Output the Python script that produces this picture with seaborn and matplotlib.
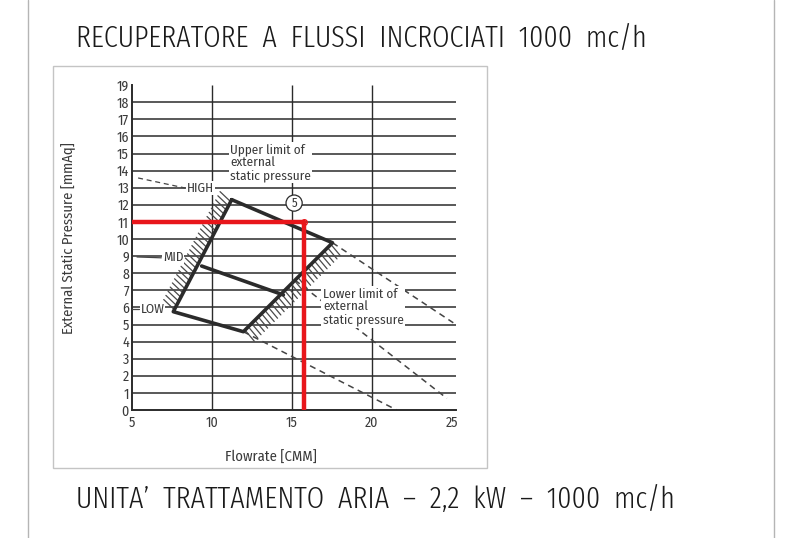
import numpy as np
import pandas as pd
import seaborn as sns
import matplotlib.pyplot as plt
from matplotlib import patheffects
from matplotlib.lines import Line2D
from matplotlib.patches import Rectangle

# fan curve outline: HIGH -> max flow -> bottom -> LOW -> HIGH
outline_flow = [11.25, 17.55, 11.98, 7.6, 11.25]
outline_press = [12.3, 9.78, 4.58, 5.75, 12.3]
# MID speed line
mid_flow = [9.37, 14.48]
mid_press = [8.42, 6.73]

# dashed extensions
upper_dash_flow = [17.55, 25.1]
upper_dash_press = [9.78, 5.1]
middle_dash_flow = [15.2, 24.7]
middle_dash_press = [7.6, 0.68]
lower_dash_flow = [11.98, 21.56]
lower_dash_press = [4.58, 0.0]

# working point (red)
work_flow = 15.8
work_press = 11

press_levels = list(range(1, 19))
flow_marks = [10, 15, 20]
x_ticks = [5, 10, 15, 20, 25]
y_ticks = list(range(0, 20))

# speed labels: leader start and text position
speed_labels = ["HIGH", "MID", "LOW"]
speed_lead_flow = [5.4, 5.33, 5.0]
speed_lead_press = [13.57, 8.95, 5.9]
speed_text_flow = [8.45, 6.95, 5.55]
speed_text_press = [12.98, 8.9, 5.9]

INK = "#2b2b2b"
TXT = "#3a3a3a"
RED = "#e8161b"
LABEL_FONT = ['Fira Sans Condensed', 'DejaVu Sans']
TITLE_FONT = ['Fira Sans Extra Condensed', 'DejaVu Sans']

sns.set_theme(style="white")
plt.rcParams['font.family'] = LABEL_FONT

fig = plt.figure(figsize=(8.01, 5.38), dpi=100)
fig.patch.set_facecolor("white")
ax = fig.add_axes([131.7 / 801, 128 / 538, 324.8 / 801, 326.6 / 538])
ax.set_facecolor("white")

ax.set_xlim(5, 25.3)
ax.set_ylim(0, 19.1)

# grid of the printed chart
ax.hlines(press_levels, 5, 25.3, color=INK, lw=1.1, zorder=1)
ax.vlines(flow_marks, 0, 19, color=INK, lw=1.0, zorder=1)

# hatched limits
tick_kw = dict(spacing=3.3, length=3.2, linewidth=0.9)
ax.plot([outline_flow[3], outline_flow[4]], [outline_press[3], outline_press[4]],
        color="#4a4a4a", lw=1,
        path_effects=[patheffects.TickedStroke(angle=74, **tick_kw)], zorder=2)
ax.plot([outline_flow[2], outline_flow[1]], [outline_press[2], outline_press[1]],
        color="#4a4a4a", lw=1,
        path_effects=[patheffects.TickedStroke(angle=-95, **tick_kw)], zorder=2)

dash = (0, (4, 3))
for fx, py in [(upper_dash_flow, upper_dash_press),
               (middle_dash_flow, middle_dash_press),
               (lower_dash_flow, lower_dash_press)]:
    sns.lineplot(x=fx, y=py, sort=False, estimator=None, ax=ax,
                 color="#444444", lw=1.1, linestyle=dash, zorder=2)

sns.lineplot(x=outline_flow, y=outline_press, sort=False, estimator=None, ax=ax,
             color=INK, lw=2.6, zorder=3)
sns.lineplot(x=mid_flow, y=mid_press, sort=False, estimator=None, ax=ax,
             color=INK, lw=2.6, zorder=3)

# speed labels with leaders
for lab, lx, ly, tx, ty in zip(speed_labels, speed_lead_flow, speed_lead_press,
                               speed_text_flow, speed_text_press):
    ls = dash if lab == "HIGH" else "-"
    ax.plot([lx, tx - 0.1], [ly, ty], color="#444444", lw=0.9, linestyle=ls, zorder=4)
    ax.text(tx, ty, lab, fontsize=9.5, color=TXT, ha="left", va="center", zorder=5,
            bbox=dict(facecolor="white", edgecolor="none", pad=0.5))

ax.text(11.15, 15.6, "Upper limit of\nexternal\nstatic pressure", fontsize=9.5,
        color=TXT, ha="left", va="top", linespacing=1.05, zorder=5,
        bbox=dict(facecolor="white", edgecolor="none", pad=1))
ax.text(16.95, 7.15, "Lower limit of\nexternal\nstatic pressure", fontsize=9.5,
        color=TXT, ha="left", va="top", linespacing=1.05, zorder=5,
        bbox=dict(facecolor="white", edgecolor="none", pad=1))
ax.text(15.15, 12.1, "5", fontsize=9, color=TXT, ha="center", va="center", zorder=5,
        bbox=dict(boxstyle="circle,pad=0.15", facecolor="white", edgecolor=INK, lw=0.9))

# working point
sns.lineplot(x=[5, work_flow, work_flow], y=[work_press, work_press, 0], sort=False,
             estimator=None, ax=ax, color=RED, lw=3.2, zorder=6)
ax.plot([work_flow], [work_press], marker="o", ms=4, mfc="none", mec=RED, mew=1, zorder=7)

ax.set_xticks(x_ticks)
ax.set_yticks(y_ticks)
ax.tick_params(axis="y", length=0, pad=2, labelsize=10, labelcolor=TXT)
ax.tick_params(axis="x", direction="in", length=4, width=1, color=INK, pad=4,
               labelsize=10, labelcolor=TXT)
for s in ["top", "right"]:
    ax.spines[s].set_visible(False)
for s in ["left", "bottom"]:
    ax.spines[s].set_color(INK)
    ax.spines[s].set_linewidth(1.4)
ax.spines["left"].set_bounds(0, 19)

ax.set_xlabel("Flowrate [CMM]", fontsize=10.5, color=TXT)
ax.xaxis.set_label_coords(0.429, -0.124)
ax.set_ylabel("External Static Pressure [mmAq]", fontsize=10.5, color=TXT)
ax.yaxis.set_label_coords(-0.171, 0.527)

# page decorations
fig.add_artist(Rectangle((53 / 801, 1 - 468 / 538), 434 / 801, 402 / 538,
                         transform=fig.transFigure, fill=False, ec="#c4c4c4", lw=1))
fig.add_artist(Line2D([28 / 801, 28 / 801], [0, 1], transform=fig.transFigure,
                      color="#b5b5b5", lw=1))
fig.add_artist(Line2D([774 / 801, 774 / 801], [0, 1], transform=fig.transFigure,
                      color="#b5b5b5", lw=1))

fig.text(76 / 801, 492 / 538, "RECUPERATORE  A  FLUSSI  INCROCIATI  1000  mc/h",
         fontsize=22, color="#1a1a1a", ha="left", va="baseline", fontweight=300,
         family=TITLE_FONT)
fig.text(76 / 801, 30 / 538, "UNITA’  TRATTAMENTO  ARIA  –  2,2  kW  –  1000  mc/h",
         fontsize=22, color="#1a1a1a", ha="left", va="baseline", fontweight=300,
         family=TITLE_FONT)

fig.savefig("out.png", dpi=100)
